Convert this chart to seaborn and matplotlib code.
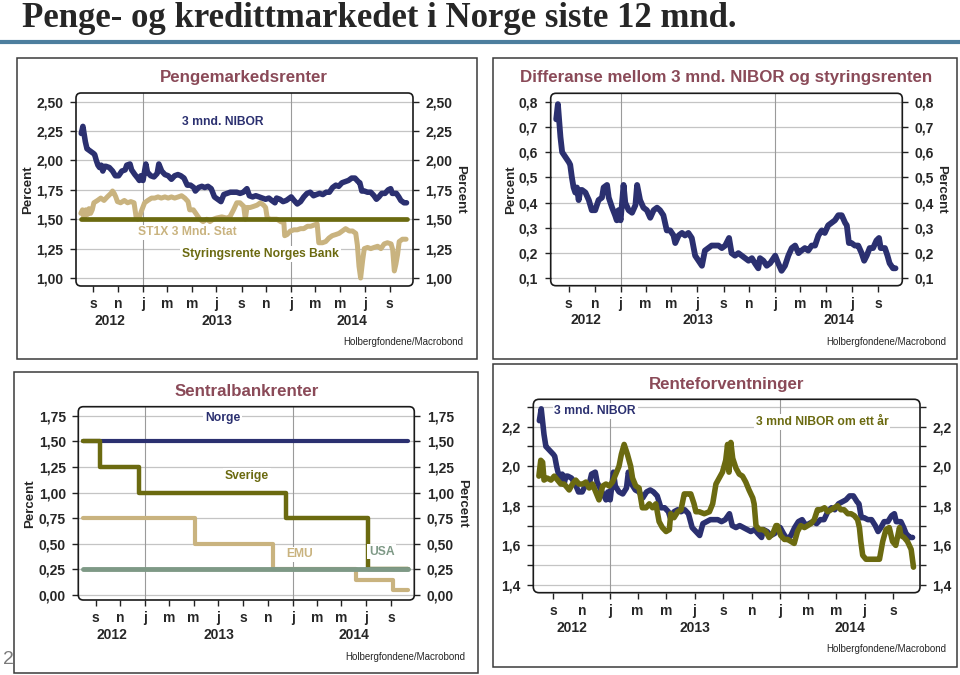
import numpy as np
import pandas as pd
import seaborn as sns
import matplotlib.pyplot as plt
import matplotlib.dates as mdates
from matplotlib.ticker import FuncFormatter
from matplotlib.patches import FancyBboxPatch, Rectangle
from matplotlib.transforms import blended_transform_factory

# ---- data (Aug 2012 - Oct 2014)
nibor_dates = [
    '2012-08-02', '2012-08-06', '2012-08-12', '2012-08-16', '2012-08-20', '2012-08-28',
    '2012-09-01', '2012-09-04', '2012-09-08', '2012-09-12', '2012-09-16', '2012-09-20',
    '2012-09-24', '2012-09-28', '2012-10-02', '2012-10-10', '2012-10-18', '2012-10-25',
    '2012-11-02', '2012-11-10', '2012-11-18', '2012-11-22', '2012-11-30', '2012-12-04',
    '2012-12-12', '2012-12-19', '2012-12-23', '2012-12-27', '2013-01-01', '2013-01-08',
    '2013-01-12', '2013-01-20', '2013-01-28', '2013-02-05', '2013-02-09', '2013-02-16',
    '2013-02-24', '2013-03-04', '2013-03-12', '2013-03-20', '2013-03-28', '2013-04-04',
    '2013-04-12', '2013-04-20', '2013-04-28', '2013-05-06', '2013-05-10', '2013-05-18',
    '2013-05-26', '2013-06-02', '2013-06-10', '2013-06-18', '2013-06-26', '2013-07-04',
    '2013-07-12', '2013-07-19', '2013-07-27', '2013-08-04', '2013-08-12', '2013-08-20',
    '2013-08-28', '2013-09-05', '2013-09-14', '2013-09-20', '2013-09-28', '2013-10-06',
    '2013-10-14', '2013-10-22', '2013-10-30', '2013-11-07', '2013-11-14', '2013-11-22',
    '2013-11-26', '2013-12-04', '2013-12-12', '2013-12-20', '2013-12-28', '2014-01-01',
    '2014-01-08', '2014-01-16', '2014-01-24', '2014-02-01', '2014-02-09', '2014-02-17',
    '2014-02-25', '2014-03-04', '2014-03-12', '2014-03-20', '2014-03-28', '2014-04-05',
    '2014-04-13', '2014-04-21', '2014-04-28', '2014-05-06', '2014-05-14', '2014-05-22',
    '2014-05-30', '2014-06-07', '2014-06-15', '2014-06-19', '2014-06-24', '2014-06-30',
    '2014-07-08', '2014-07-16', '2014-07-24', '2014-07-30', '2014-08-05', '2014-08-12',
    '2014-08-20', '2014-08-28', '2014-09-03', '2014-09-07', '2014-09-17', '2014-09-23',
    '2014-09-28', '2014-10-06', '2014-10-12']
nibor = [
    2.23, 2.29, 2.16, 2.10, 2.09, 2.07, 2.06, 2.05, 2.00, 1.96, 1.94, 1.96,
    1.91, 1.95, 1.95, 1.94, 1.91, 1.87, 1.87, 1.91, 1.92, 1.96, 1.97, 1.92,
    1.88, 1.85, 1.83, 1.87, 1.83, 1.97, 1.90, 1.87, 1.86, 1.89, 1.97, 1.91,
    1.88, 1.87, 1.84, 1.87, 1.88, 1.87, 1.85, 1.79, 1.79, 1.77, 1.74, 1.77,
    1.78, 1.77, 1.78, 1.76, 1.69, 1.67, 1.65, 1.71, 1.72, 1.73, 1.73, 1.73,
    1.72, 1.73, 1.76, 1.70, 1.69, 1.70, 1.69, 1.68, 1.67, 1.68, 1.66, 1.64,
    1.68, 1.67, 1.65, 1.66, 1.68, 1.69, 1.66, 1.63, 1.65, 1.69, 1.72, 1.73,
    1.70, 1.71, 1.72, 1.71, 1.73, 1.73, 1.77, 1.79, 1.78, 1.81, 1.82, 1.83,
    1.85, 1.85, 1.82, 1.81, 1.74, 1.74, 1.73, 1.73, 1.70, 1.67, 1.69, 1.72,
    1.72, 1.75, 1.76, 1.72, 1.72, 1.69, 1.66, 1.64, 1.64]

st1x_dates = [
    '2012-08-01', '2012-08-05', '2012-08-09', '2012-08-13', '2012-08-17', '2012-08-21',
    '2012-08-25', '2012-08-29', '2012-09-02', '2012-09-11', '2012-09-19', '2012-09-27',
    '2012-10-05', '2012-10-14', '2012-10-18', '2012-10-22', '2012-10-26', '2012-10-30',
    '2012-11-07', '2012-11-16', '2012-11-24', '2012-12-02', '2012-12-10', '2012-12-15',
    '2012-12-19', '2012-12-23', '2012-12-27', '2013-01-05', '2013-01-13', '2013-01-22',
    '2013-01-30', '2013-02-07', '2013-02-15', '2013-02-24', '2013-03-04', '2013-03-12',
    '2013-03-20', '2013-03-29', '2013-04-06', '2013-04-14', '2013-04-22', '2013-04-26',
    '2013-05-05', '2013-05-13', '2013-05-21', '2013-05-29', '2013-06-07', '2013-06-15',
    '2013-06-23', '2013-07-01', '2013-07-14', '2013-07-26', '2013-08-03', '2013-08-12',
    '2013-08-20', '2013-08-28', '2013-09-06', '2013-09-10', '2013-09-14', '2013-09-22',
    '2013-10-01', '2013-10-09', '2013-10-17', '2013-10-25', '2013-10-30', '2013-11-03',
    '2013-11-11', '2013-11-19', '2013-11-27', '2013-12-06', '2013-12-14', '2013-12-16',
    '2013-12-22', '2013-12-30', '2014-01-08', '2014-01-16', '2014-01-24', '2014-02-01',
    '2014-02-10', '2014-02-18', '2014-02-26', '2014-03-06', '2014-03-10', '2014-03-19',
    '2014-03-27', '2014-04-04', '2014-04-12', '2014-04-21', '2014-04-29', '2014-05-07',
    '2014-05-15', '2014-05-24', '2014-06-01', '2014-06-09', '2014-06-13', '2014-06-17',
    '2014-06-21', '2014-06-26', '2014-06-30', '2014-07-08', '2014-07-16', '2014-07-24',
    '2014-08-02', '2014-08-10', '2014-08-18', '2014-08-26', '2014-09-04', '2014-09-08',
    '2014-09-12', '2014-09-16', '2014-09-20', '2014-09-24', '2014-10-02', '2014-10-11']
st1x = [
    1.55, 1.58, 1.51, 1.58, 1.54, 1.59, 1.55, 1.58, 1.64, 1.66, 1.68, 1.66,
    1.69, 1.72, 1.74, 1.72, 1.69, 1.65, 1.64, 1.66, 1.64, 1.65, 1.64, 1.52,
    1.50, 1.51, 1.56, 1.64, 1.66, 1.68, 1.68, 1.69, 1.68, 1.69, 1.68, 1.69,
    1.68, 1.69, 1.70, 1.68, 1.65, 1.58, 1.58, 1.54, 1.50, 1.48, 1.50, 1.48,
    1.50, 1.51, 1.52, 1.51, 1.52, 1.58, 1.64, 1.64, 1.61, 1.50, 1.60, 1.60,
    1.61, 1.62, 1.64, 1.62, 1.60, 1.51, 1.50, 1.50, 1.50, 1.48, 1.47, 1.36,
    1.37, 1.40, 1.41, 1.41, 1.42, 1.42, 1.44, 1.44, 1.45, 1.46, 1.30, 1.30,
    1.31, 1.34, 1.36, 1.37, 1.38, 1.40, 1.42, 1.40, 1.40, 1.38, 1.28, 1.10,
    1.00, 1.15, 1.25, 1.26, 1.25, 1.26, 1.27, 1.25, 1.29, 1.30, 1.29, 1.24,
    1.06, 1.12, 1.20, 1.31, 1.33, 1.33]

fwd_dates = [
    '2012-08-01', '2012-08-05', '2012-08-09', '2012-08-12', '2012-08-19', '2012-08-27',
    '2012-09-03', '2012-09-10', '2012-09-17', '2012-09-24', '2012-09-28', '2012-10-05',
    '2012-10-12', '2012-10-19', '2012-10-26', '2012-11-03', '2012-11-10', '2012-11-17',
    '2012-11-24', '2012-12-01', '2012-12-08', '2012-12-16', '2012-12-23', '2012-12-30',
    '2013-01-06', '2013-01-13', '2013-01-20', '2013-01-25', '2013-01-31', '2013-02-07',
    '2013-02-14', '2013-02-18', '2013-02-25', '2013-03-04', '2013-03-11', '2013-03-19',
    '2013-03-26', '2013-04-02', '2013-04-09', '2013-04-16', '2013-04-23', '2013-05-01',
    '2013-05-08', '2013-05-11', '2013-05-18', '2013-05-26', '2013-06-02', '2013-06-09',
    '2013-06-16', '2013-06-23', '2013-06-30', '2013-07-04', '2013-07-11', '2013-07-22',
    '2013-08-02', '2013-08-09', '2013-08-16', '2013-08-23', '2013-08-30', '2013-09-06',
    '2013-09-10', '2013-09-13', '2013-09-17', '2013-09-21', '2013-09-28', '2013-10-05',
    '2013-10-12', '2013-10-19', '2013-10-26', '2013-11-03', '2013-11-06', '2013-11-10',
    '2013-11-17', '2013-11-24', '2013-12-01', '2013-12-08', '2013-12-16', '2013-12-23',
    '2013-12-26', '2014-01-02', '2014-01-10', '2014-01-17', '2014-01-24', '2014-01-31',
    '2014-02-07', '2014-02-14', '2014-02-22', '2014-03-01', '2014-03-08', '2014-03-15',
    '2014-03-22', '2014-03-29', '2014-04-06', '2014-04-13', '2014-04-20', '2014-04-27',
    '2014-05-04', '2014-05-11', '2014-05-18', '2014-05-26', '2014-06-02', '2014-06-09',
    '2014-06-16', '2014-06-20', '2014-06-23', '2014-06-27', '2014-07-04', '2014-07-11',
    '2014-07-18', '2014-07-26', '2014-08-02', '2014-08-09', '2014-08-16', '2014-08-23',
    '2014-08-27', '2014-08-30', '2014-09-06', '2014-09-14', '2014-09-17', '2014-09-24',
    '2014-10-01', '2014-10-09', '2014-10-14']
nibor_om_ett_aar = [
    1.95, 2.03, 2.02, 1.93, 1.94, 1.93, 1.95, 1.93, 1.91, 1.91, 1.90, 1.88,
    1.91, 1.93, 1.91, 1.91, 1.92, 1.89, 1.91, 1.87, 1.83, 1.90, 1.91, 1.90,
    1.92, 1.96, 2.00, 2.06, 2.11, 2.06, 2.00, 1.94, 1.90, 1.89, 1.79, 1.79,
    1.81, 1.79, 1.81, 1.72, 1.69, 1.67, 1.68, 1.76, 1.74, 1.77, 1.78, 1.86,
    1.86, 1.86, 1.81, 1.77, 1.77, 1.76, 1.77, 1.81, 1.91, 1.94, 1.97, 2.03,
    2.11, 1.97, 2.12, 2.04, 1.99, 1.96, 1.95, 1.92, 1.88, 1.84, 1.81, 1.70,
    1.68, 1.68, 1.67, 1.64, 1.66, 1.70, 1.70, 1.65, 1.63, 1.63, 1.62, 1.61,
    1.67, 1.70, 1.69, 1.70, 1.71, 1.73, 1.78, 1.78, 1.79, 1.77, 1.78, 1.79,
    1.80, 1.78, 1.78, 1.76, 1.76, 1.75, 1.73, 1.69, 1.62, 1.55, 1.53, 1.53,
    1.53, 1.53, 1.53, 1.62, 1.68, 1.69, 1.65, 1.62, 1.60, 1.69, 1.65, 1.64,
    1.62, 1.58, 1.49]

# central bank policy rates (step changes)
norge_dates = ['2012-08-01', '2014-10-12']
norge = [1.50, 1.50]
sverige_dates = ['2012-08-01', '2012-09-11', '2012-12-18', '2013-12-16', '2014-07-06', '2014-10-12']
sverige = [1.50, 1.25, 1.00, 0.75, 0.25, 0.25]
emu_dates = ['2012-08-01', '2013-05-04', '2013-11-13', '2014-06-06', '2014-09-06', '2014-10-12']
emu = [0.75, 0.50, 0.25, 0.15, 0.05, 0.05]
usa_dates = ['2012-08-01', '2014-10-12']
usa = [0.25, 0.25]

month_letters = {1: 'j', 3: 'm', 5: 'm', 7: 'j', 9: 's', 11: 'n'}

p1_yticks = [1.00, 1.25, 1.50, 1.75, 2.00, 2.25, 2.50]
p1_ylabels = ['1,00', '1,25', '1,50', '1,75', '2,00', '2,25', '2,50']
p2_yticks = [0.1, 0.2, 0.3, 0.4, 0.5, 0.6, 0.7, 0.8]
p2_ylabels = ['0,1', '0,2', '0,3', '0,4', '0,5', '0,6', '0,7', '0,8']
p3_yticks = [0.00, 0.25, 0.50, 0.75, 1.00, 1.25, 1.50, 1.75]
p3_ylabels = ['0,00', '0,25', '0,50', '0,75', '1,00', '1,25', '1,50', '1,75']
p4_yticks = [1.4, 1.5, 1.6, 1.7, 1.8, 1.9, 2.0, 2.1, 2.2, 2.3]
p4_ylabels = ['1,4', '', '1,6', '', '1,8', '', '2,0', '', '2,2', '']

# colours
navy = '#2b3070'
olive = '#6b6a10'
tan = '#c9b37f'
usa_col = '#7e9986'
head_col = '#8a4a58'


def series(d, v, name='rate'):
    return pd.DataFrame({'dato': pd.to_datetime(d), name: v})


nib = series(nibor_dates, nibor, 'nibor')
pol = series(norge_dates, norge, 'rate')
nib = pd.merge_asof(nib, pol, on='dato')
nib['diff'] = nib['nibor'] - nib['rate']
st = series(st1x_dates, st1x, 'st1x')
fwd = series(fwd_dates, nibor_om_ett_aar, 'fwd')

sns.set_theme(style='white')
plt.rcParams['font.family'] = ['Liberation Sans', 'DejaVu Sans']
plt.rcParams['font.weight'] = 'bold'

W, H = 960, 675
fig = plt.figure(figsize=(9.6, 6.75), dpi=100)
fig.patch.set_facecolor('white')


def fx(x, y):
    return x / W, 1 - y / H


def px_axes(x0, y0, x1, y1):
    return fig.add_axes([x0 / W, 1 - y1 / H, (x1 - x0) / W, (y1 - y0) / H])


XLIM = (pd.Timestamp('2012-07-20'), pd.Timestamp('2014-10-28'))


def style(ax, yticks, ylabels, ylim, left_pct=None, right_pct=None):
    ax.set_xlim(XLIM)
    ax.set_ylim(ylim)
    ax.set_yticks(yticks)
    ax.set_yticklabels(ylabels)
    ax.yaxis.grid(True, color='#c4c4c4', lw=0.9)
    ax.xaxis.grid(False)
    ax.set_axisbelow(True)
    for s in ax.spines.values():
        s.set_visible(False)
    ax.tick_params(axis='y', left=True, right=True, labelleft=True, labelright=True,
                   length=4, width=1, pad=5, labelsize=10, color='#222', direction='out')
    ax.xaxis.set_major_locator(mdates.MonthLocator(bymonth=[1, 3, 5, 7, 9, 11]))
    ax.xaxis.set_major_formatter(FuncFormatter(lambda v, p: month_letters[mdates.num2date(v).month]))
    ax.tick_params(axis='x', bottom=True, length=4, width=1, pad=4, labelsize=10, color='#222')
    ax.set_xlabel('')
    ax.set_ylabel('')
    for yr in [2013, 2014]:
        ax.axvline(pd.Timestamp(f'{yr}-01-01'), color='#9a9a9a', lw=0.8, zorder=0.8)
    tr = blended_transform_factory(ax.transData, ax.transAxes)
    for yr in [2012, 2013, 2014]:
        a = max(XLIM[0], pd.Timestamp(f'{yr}-01-01'))
        b = min(XLIM[1], pd.Timestamp(f'{yr + 1}-01-01'))
        ax.text(mdates.date2num(a + (b - a) / 2), -0.18, str(yr), transform=tr,
                ha='center', va='center', fontsize=10)
    bb = ax.get_position()
    asp = (bb.width * W) / (bb.height * H)
    ax.add_patch(FancyBboxPatch((0, 0), 1, 1, boxstyle='round,pad=0,rounding_size=0.015',
                                transform=ax.transAxes, mutation_aspect=asp, fill=False,
                                ec='#1a1a1a', lw=1.2, clip_on=False, zorder=10))
    if left_pct is not None:
        ax.text(left_pct, 0.5, 'Percent', rotation=90, transform=ax.transAxes,
                ha='center', va='center', fontsize=9.5)
    if right_pct is not None:
        ax.text(right_pct, 0.5, 'Percent', rotation=270, transform=ax.transAxes,
                ha='center', va='center', fontsize=9.5)


def label(ax, x, y, txt, col):
    ax.text(x, y, txt, transform=ax.transAxes, ha='center', va='center', fontsize=8.7,
            color=col, zorder=12,
            bbox=dict(boxstyle='square,pad=0.15', fc='white', ec='none'))


# ---- page furniture
fig.text(*fx(22, 27), 'Penge- og kredittmarkedet i Norge siste 12 mnd.', fontsize=25,
         family=['Liberation Serif', 'DejaVu Serif'], weight='bold', va='baseline', ha='left')
fig.add_artist(plt.Line2D([0, 1], [1 - 41.7 / H] * 2, color='#4d7e9e', lw=3,
                          transform=fig.transFigure))
for (x0, y0, x1, y1) in [(17, 57.7, 477, 359), (493, 57.7, 957, 359),
                         (14, 371.7, 478, 673), (493, 364, 957, 667)]:
    fig.add_artist(Rectangle(fx(x0, y1), (x1 - x0) / W, (y1 - y0) / H, fill=False,
                             ec='#3a3a3a', lw=1.1, transform=fig.transFigure))
fig.text(*fx(3, 660), '2', fontsize=14, color='#7a7a7a', weight='normal', va='center')

for (x, y, t) in [(243.7, 77.7, 'Pengemarkedsrenter'),
                  (725.8, 77.7, 'Differanse mellom 3 mnd. NIBOR og styringsrenten'),
                  (246.7, 391, 'Sentralbankrenter'),
                  (726.7, 384, 'Renteforventninger')]:
    fig.text(*fx(x, y), t, fontsize=12.2, color=head_col, ha='center', va='center')
for (x, y) in [(463.3, 342.3), (946, 342.3), (465.7, 656.7), (946, 649)]:
    fig.text(*fx(x, y), 'Holbergfondene/Macrobond', fontsize=7, weight='normal',
             ha='right', va='center')

# ---- panel 1: Pengemarkedsrenter
ax1 = px_axes(76, 93, 413, 286)
sns.lineplot(data=st, x='dato', y='st1x', ax=ax1, color=tan, lw=3.6, estimator=None)
sns.lineplot(data=pol, x='dato', y='rate', ax=ax1, color=olive, lw=3.4,
             estimator=None, drawstyle='steps-post')
sns.lineplot(data=nib, x='dato', y='nibor', ax=ax1, color=navy, lw=4.0, estimator=None)
style(ax1, p1_yticks, p1_ylabels, (0.932, 2.574), -0.142, 1.139)
label(ax1, 0.436, 0.851, '3 mnd. NIBOR', navy)
label(ax1, 0.330, 0.278, 'ST1X 3 Mnd. Stat', tan)
label(ax1, 0.547, 0.166, 'Styringsrente Norges Bank', olive)

# ---- panel 2: differanse
ax2 = px_axes(550.7, 93.3, 902.3, 285.7)
sns.lineplot(data=nib, x='dato', y='diff', ax=ax2, color=navy, lw=4.2, estimator=None)
style(ax2, p2_yticks, p2_ylabels, (0.071, 0.833), -0.113, 1.110)

# ---- panel 3: Sentralbankrenter
ax3 = px_axes(78.3, 406.7, 414.3, 600)
for d, v, c, w in [(norge_dates, norge, navy, 3.0), (sverige_dates, sverige, olive, 3.2),
                   (emu_dates, emu, tan, 3.0), (usa_dates, usa, usa_col, 3.5)]:
    sns.lineplot(data=series(d, v), x='dato', y='rate', ax=ax3, color=c, lw=w,
                 estimator=None, drawstyle='steps-post')
style(ax3, p3_yticks, p3_ylabels, (-0.049, 1.838), -0.142, 1.141)
label(ax3, 0.430, 0.940, 'Norge', navy)
label(ax3, 0.501, 0.641, 'Sverige', olive)
label(ax3, 0.660, 0.236, 'EMU', tan)
label(ax3, 0.903, 0.250, 'USA', usa_col)

# ---- panel 4: Renteforventninger
ax4 = px_axes(533.3, 399.3, 920, 592.7)
sns.lineplot(data=nib, x='dato', y='nibor', ax=ax4, color=navy, lw=4.0, estimator=None)
sns.lineplot(data=fwd, x='dato', y='fwd', ax=ax4, color=olive, lw=4.0, estimator=None)
style(ax4, p4_yticks, p4_ylabels, (1.361, 2.338))
label(ax4, 0.160, 0.941, '3 mnd. NIBOR', navy)
label(ax4, 0.747, 0.884, '3 mnd NIBOR om ett år', olive)

fig.savefig('out.png', dpi=100, facecolor='white')
